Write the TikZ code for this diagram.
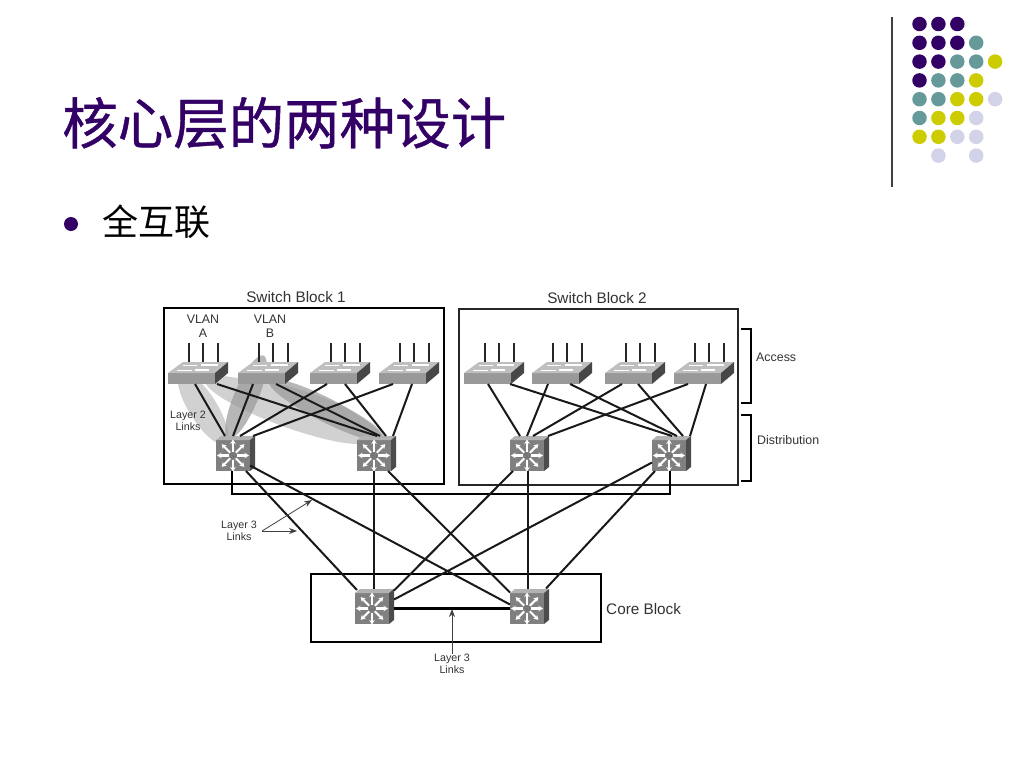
\documentclass[tikz,border=0pt]{standalone}
\usepackage{fontspec}
\setmainfont{Liberation Sans}
\newfontfamily\cjk{Noto Sans CJK SC}
\newfontfamily\cjktitle[FakeBold=0.7]{Noto Sans CJK SC}
\usetikzlibrary{arrows.meta,calc}
\definecolor{dpurple}{HTML}{330066}
\definecolor{dteal}{HTML}{669999}
\definecolor{dyellow}{HTML}{CCCC00}
\definecolor{dlav}{HTML}{D2D2E8}
\tikzset{
  lbl/.style={font=\fontsize{15.3}{17}\selectfont,text=black!80,inner sep=0pt,align=center},
  sml/.style={font=\fontsize{12.4}{14}\selectfont,text=black!80,inner sep=0pt,align=center},
  tiny/.style={font=\fontsize{10.7}{12}\selectfont,text=black!80,inner sep=0pt,align=center},
  link/.style={line width=2pt,black!90},
  thicklink/.style={line width=2.6pt,black},
  callout/.style={line width=0.8pt,black!75,-{Stealth[length=8pt,width=6pt]}},
  anchorbox/.style={inner sep=0pt,outer sep=0pt,minimum width=#1},
  dot/.style={circle,inner sep=0pt,minimum size=14.5pt,fill=#1},
  lightell/.style={fill=black!18},
  darkell/.style={fill=black!40,opacity=.7},
}
% switch: #1 name, #2 x of front-left, #3 y of front-top
\newcommand{\swdev}[3]{%
  \begin{scope}[shift={(#2,#3)}]
    \fill[black!40] (0,0) rectangle (47,11);
    \fill[black!25] (0,0) -- (15,-11) -- (60,-11) -- (47,0) -- cycle;
    \fill[black!72] (47,0) -- (60,-11) -- (60,0) -- (47,11) -- cycle;
    \draw[white,line width=1.6pt] (9,-2.5) -- (24,-2.5) (27,-3) -- (41,-3) (15,-7.5) -- (29,-7.5) (33,-8) -- (50,-8);
    \node[anchorbox=47pt,minimum height=11pt] (#1) at (23.5,5.5) {};
    \draw[line width=2pt,black!85] (20.5,-11) -- (20.5,-30) (35,-11) -- (35,-30) (50,-11) -- (50,-30);
  \end{scope}}
% router: #1 name, #2 x of front-left, #3 y of front-top
\newcommand{\rtdev}[3]{%
  \begin{scope}[shift={(#2,#3)}]
    \fill[black!50] (0,0) rectangle (34,31);
    \fill[black!30] (0,0) -- (5,-4) -- (39,-4) -- (34,0) -- cycle;
    \fill[black!70] (34,0) -- (39,-4) -- (39,27) -- (34,31) -- cycle;
    \node[anchorbox=34pt,minimum height=31pt] (#1) at (17,15.5) {};
    \foreach \a in {0,45,...,315}
      \draw[white,line width=2.1pt,-{Stealth[length=4.5pt,width=5.5pt]}] (17,15.5) ++(\a:4) -- ++(\a:12);
    \node[font=\fontsize{7}{8}\selectfont,text=black!60,inner sep=0pt] at (17,15.5) {Si};
  \end{scope}}
\begin{document}
\begin{tikzpicture}[x=1pt,y=-1pt]
\useasboundingbox (0,0) rectangle (1024,768);
\fill[white] (0,0) rectangle (1024,768);
% header
\node[anchor=west,inner sep=0pt,text=dpurple,font=\cjktitle\fontsize{55.5}{60}\selectfont] (title) at (62,123) {核心层的两种设计};
\node[circle,fill=dpurple,inner sep=0pt,minimum size=14pt] (bul) at (71,224) {};
\node[anchor=west,inner sep=0pt,text=black,font=\cjk\fontsize{36}{40}\selectfont] (sub) at (102,222) {全互联};
\draw[line width=1.2pt,black!75] (892,17) -- (892,187);
% dots
\foreach \c/\r/\col in {0/0/dpurple,1/0/dpurple,2/0/dpurple,
  0/1/dpurple,1/1/dpurple,2/1/dpurple,3/1/dteal,
  0/2/dpurple,1/2/dpurple,2/2/dteal,3/2/dteal,4/2/dyellow,
  0/3/dpurple,1/3/dteal,2/3/dteal,3/3/dyellow,
  0/4/dteal,1/4/dteal,2/4/dyellow,3/4/dyellow,4/4/dlav,
  0/5/dteal,1/5/dyellow,2/5/dyellow,3/5/dlav,
  0/6/dyellow,1/6/dyellow,2/6/dlav,3/6/dlav,
  1/7/dlav,3/7/dlav}
  \node[dot=\col] at ({919.5+18.9*\c},{24+18.8*\r}) {};
% blocks
\draw[line width=2.8pt] (164,308) rectangle (444,484);
\draw[line width=1.4pt,black!85] (459,309) rectangle (738,485);
\draw[line width=2.6pt] (311,574) rectangle (601,642);
\node[lbl] (sb1) at (296,297) {Switch Block 1};
\node[lbl] (sb2) at (597,298) {Switch Block 2};
\node[lbl,anchor=west] (core) at (606,609) {Core Block};
\node[sml] (vla) at (203,326) {VLAN\\A};
\node[sml] (vlb) at (270,326) {VLAN\\B};
% ellipses
\fill[lightell] (203,408) ellipse[x radius=42,y radius=14,rotate=-58];
\fill[lightell] (288,410) ellipse[x radius=88,y radius=17,rotate=-20];
\fill[lightell] (318,414) ellipse[x radius=74,y radius=17,rotate=-22];
\fill[darkell] (246,397) ellipse[x radius=45,y radius=12,rotate=67];
\fill[darkell] (326,410) ellipse[x radius=64,y radius=12,rotate=-27];
% brackets
\draw[line width=2pt] (741,329) -- (751,329) -- (751,403) -- (741,403);
\draw[line width=2pt] (741,415) -- (751,415) -- (751,481) -- (741,481);
\node[sml,anchor=west] (acc) at (756,357) {Access};
\node[sml,anchor=west] (dis) at (757,440) {Distribution};
% devices
\swdev{s1}{168}{373}\swdev{s2}{238}{373}\swdev{s3}{310}{373}\swdev{s4}{379}{373}
\swdev{s5}{464}{373}\swdev{s6}{532}{373}\swdev{s7}{605}{373}\swdev{s8}{674}{373}
\rtdev{r1}{216}{440}\rtdev{r2}{357}{440}\rtdev{r3}{510}{440}\rtdev{r4}{652}{440}
\rtdev{c1}{355}{593}\rtdev{c2}{510}{593}
% access-distribution links
\foreach \a/\ax/\b/\bx in {s1/3.5/r1/-8,s1/25.5/r2/3,s2/-8.5/r1/0,s2/14.5/r2/6,s3/-6.5/r1/7,s3/11.5/r2/12,s4/-9.5/r1/20,s4/9.5/r2/19,
  s5/0.5/r3/-7,s5/22.5/r4/3,s6/-7.5/r3/0,s6/14.5/r4/8,s7/-6.5/r3/6,s7/9.5/r4/14,s8/-9.5/r3/21,s8/8.5/r4/21}
  \draw[link] ([xshift=\ax pt]\a.south) -- ([xshift=\bx pt,yshift=4pt]\b.north);
% distribution-core links
\draw[thicklink] ([xshift=-1pt]r1.south) -- ++(0,23) -| ([xshift=1pt]r4.south);
\draw[link] ([xshift=13pt]r1.south) -- ([xshift=-15pt,yshift=3pt]c1.north);
\draw[link] ([yshift=-10pt]r1.east) -- ([yshift=4pt]c2.west);
\draw[link] (r2.south) -- ([xshift=2pt,yshift=4pt]c1.north);
\draw[link] ([xshift=14pt]r2.south) -- ([yshift=16pt]c2.west);
\draw[link] ([xshift=-14pt]r3.south) -- ([xshift=5pt,yshift=18pt]c1.east);
\draw[link] ([xshift=1pt]r3.south) -- ([xshift=1pt,yshift=4pt]c2.north);
\draw[link] ([yshift=-7pt]r4.west) -- ([xshift=5pt,yshift=9pt]c1.east);
\draw[link] ([xshift=-14pt]r4.south) -- ([xshift=2pt,yshift=20pt]c2.east);
\draw[thicklink] ([xshift=5pt]c1.east) -- (c2.west);
% callouts
\node[tiny] (l2) at (188,421) {Layer 2\\Links};
\node[tiny] (l3a) at (239,531) {Layer 3\\Links};
\node[tiny] (l3b) at (452,664) {Layer 3\\Links};
\coordinate (t1) at (312,500);
\coordinate (t2) at (297,531);
\coordinate (t3) at (452,609);
\draw[callout] ([xshift=5pt]l3a.east) -- (t1);
\draw[callout] ([xshift=5pt]l3a.east) -- (t2);
\draw[callout] (l3b.north) -- (t3);
\end{tikzpicture}
\end{document}
